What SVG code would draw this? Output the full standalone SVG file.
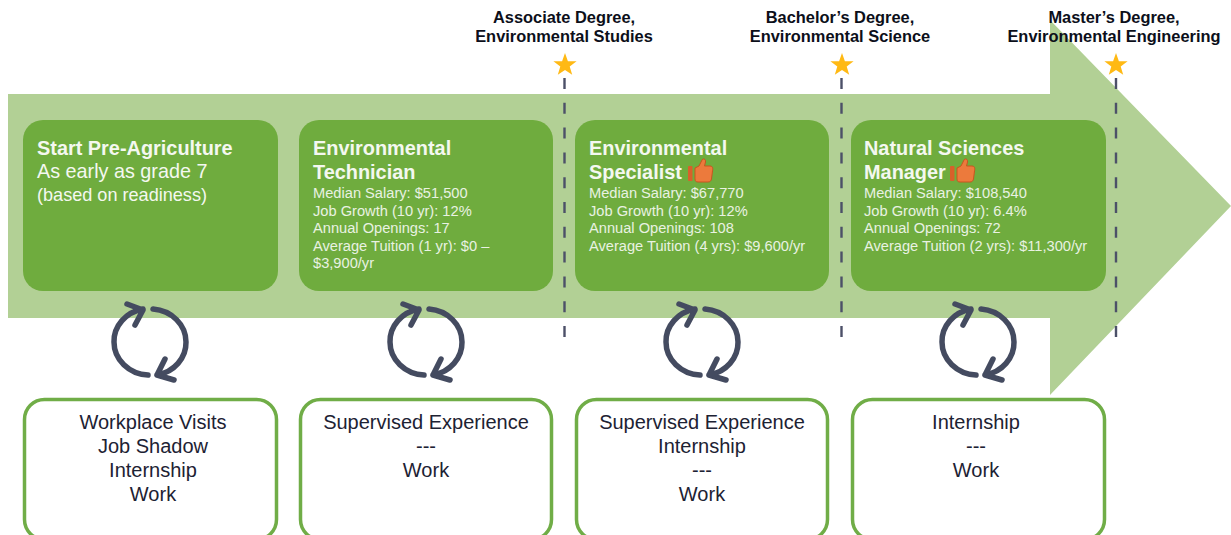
<svg xmlns="http://www.w3.org/2000/svg" xmlns:xlink="http://www.w3.org/1999/xlink" width="1231" height="535" viewBox="0 0 1231 535">
<style>
text{font-family:"Liberation Sans",Arial,sans-serif}
.card{fill:#6fac3e}
.box{fill:#fff;stroke:#70ad47;stroke-width:3.5}
.h{font-size:19.9px;font-weight:bold;fill:#f4f8f0}
.l{font-size:18.1px;fill:#f4f8f0}
.s{font-size:14.65px;fill:#e9f2e2}
.b{font-size:20px;fill:#1d2233;text-anchor:middle}
.d{font-size:16.4px;font-weight:bold;fill:#0c0f1a;text-anchor:middle}
.dash{stroke:#4c5068;stroke-width:2.4;stroke-dasharray:11 13.8;fill:none}
.cyc{fill:none;stroke:#444b60;stroke-width:5.5;stroke-linecap:round;stroke-linejoin:round}
</style>
<defs>
<symbol id="cycle" overflow="visible" viewBox="0 0 1 1" width="1" height="1">
<path class="cyc" d="M148 375A36 33 0 0 1 114 342A36 33 0 0 1 143 309M127 304L143 310L135 325M153 309A36 33 0 0 1 186 342A36 33 0 0 1 157 375M165 359L157 375L174 380" transform="translate(-150 -342)"/>
</symbol>
<polygon id="star" points="0,-12 2.9,-3.8 11.6,-3.7 4.7,1.5 7.2,9.8 0,4.9 -7.2,9.8 -4.700,1.500 -11.600,-3.700 -2.900,-3.800" fill="#ffb914"/>
<g id="thumb">
<rect x="0" y="5" width="4.500" height="15" rx="1" fill="#d8602a"/>
<path d="M7 7L11 5L14 -1C15 -3 18 -2 17.500 1L16.500 5L22 5C25 5 25 8 24.500 10L23.500 18C23 20 22 21 20 21L10 21C8 21 7 20 7 18Z" fill="#ec7a3c" stroke="#c9541f" stroke-width="1"/>
</g>
</defs>
<polygon id="arrow" points="8,94 1050,94 1050,20 1231,206 1050,395 1050,318 8,318" fill="#b2d095"/>
<g id="connectors">
<path class="dash" d="M564.500 78V339"/>
<path class="dash" d="M841.500 78V339"/>
<path class="dash" d="M1116 78V339"/>
</g>
<g id="degree-associate"><use href="#star" x="565" y="65"/><text class="d" x="564" y="23">Associate Degree,</text><text class="d" x="564" y="42">Environmental Studies</text></g>
<g id="degree-bachelor"><use href="#star" x="842" y="65"/><text class="d" x="840" y="23">Bachelor’s Degree,</text><text class="d" x="840" y="42">Environmental Science</text></g>
<g id="degree-master"><use href="#star" x="1116" y="65"/><text class="d" x="1114" y="23">Master’s Degree,</text><text class="d" x="1114" y="42">Environmental Engineering</text></g>
<g id="card-start"><rect class="card" x="23" y="120" width="255" height="171" rx="20"/>
<text class="h" x="37" y="155">Start Pre-Agriculture</text><text class="l" x="37" y="178" style="font-size:19.8px">As early as grade 7</text><text class="l" x="37" y="201">(based on readiness)</text></g>
<g id="card-technician"><rect class="card" x="299" y="120" width="254" height="171" rx="20"/>
<text class="h" x="313" y="155">Environmental</text><text class="h" x="313" y="179">Technician</text>
<text class="s" x="313" y="198">Median Salary: $51,500</text><text class="s" x="313" y="216">Job Growth (10 yr): 12%</text><text class="s" x="313" y="233">Annual Openings: 17</text><text class="s" x="313" y="251">Average Tuition (1 yr): $0 –</text><text class="s" x="313" y="268">$3,900/yr</text></g>
<g id="card-specialist"><rect class="card" x="575" y="120" width="254" height="171" rx="20"/>
<text class="h" x="589" y="155">Environmental</text><text class="h" x="589" y="179">Specialist</text><use href="#thumb" x="688" y="161"/>
<text class="s" x="589" y="198">Median Salary: $67,770</text><text class="s" x="589" y="216">Job Growth (10 yr): 12%</text><text class="s" x="589" y="233">Annual Openings: 108</text><text class="s" x="589" y="251">Average Tuition (4 yrs): $9,600/yr</text></g>
<g id="card-manager"><rect class="card" x="851" y="120" width="255" height="171" rx="20"/>
<text class="h" x="864" y="155">Natural Sciences</text><text class="h" x="864" y="179">Manager</text><use href="#thumb" x="950" y="161"/>
<text class="s" x="864" y="198">Median Salary: $108,540</text><text class="s" x="864" y="216">Job Growth (10 yr): 6.4%</text><text class="s" x="864" y="233">Annual Openings: 72</text><text class="s" x="864" y="251">Average Tuition (2 yrs): $11,300/yr</text></g>
<g id="cycles"><use href="#cycle" x="150" y="342"/><use href="#cycle" x="426" y="342"/><use href="#cycle" x="702" y="342"/><use href="#cycle" x="978" y="342"/></g>
<g id="box-1"><rect class="box" x="24.500" y="399.500" width="252" height="140" rx="20"/><text class="b" x="153" y="429">Workplace Visits</text><text class="b" x="153" y="453">Job Shadow</text><text class="b" x="153" y="477">Internship</text><text class="b" x="153" y="501">Work</text></g>
<g id="box-2"><rect class="box" x="300.500" y="399.500" width="251" height="140" rx="20"/><text class="b" x="426" y="429">Supervised Experience</text><text class="b" x="426" y="453">---</text><text class="b" x="426" y="477">Work</text></g>
<g id="box-3"><rect class="box" x="576.500" y="399.500" width="251" height="140" rx="20"/><text class="b" x="702" y="429">Supervised Experience</text><text class="b" x="702" y="453">Internship</text><text class="b" x="702" y="477">---</text><text class="b" x="702" y="501">Work</text></g>
<g id="box-4"><rect class="box" x="852.500" y="399.500" width="252" height="140" rx="20"/><text class="b" x="976" y="429">Internship</text><text class="b" x="976" y="453">---</text><text class="b" x="976" y="477">Work</text></g>
</svg>
